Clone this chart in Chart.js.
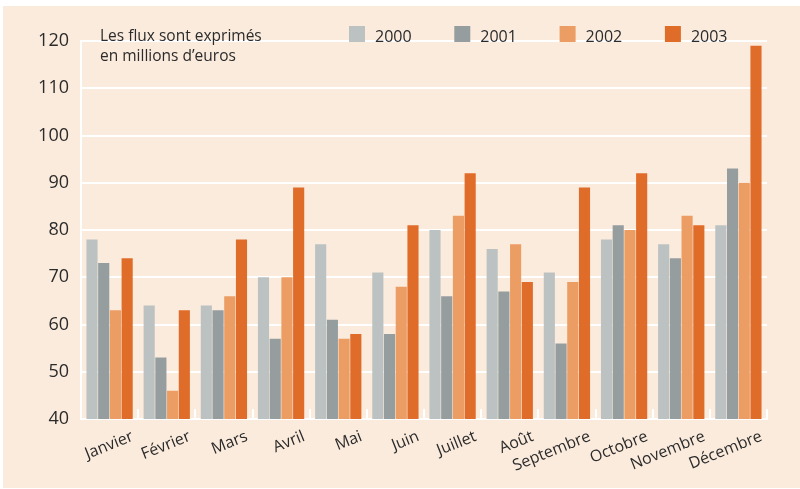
<!DOCTYPE html>
<html>
<head>
<meta charset="utf-8">
<script src="https://cdn.jsdelivr.net/npm/chart.js@4.4.1/dist/chart.umd.min.js"></script>
<style>
  html, body { margin: 0; padding: 0; background: #ffffff; }
  #wrap { width: 800px; height: 489px; }
</style>
</head>
<body>
<div id="wrap"><canvas id="chart" width="800" height="489"></canvas></div>
<script>
const months = ["Janvier", "Février", "Mars", "Avril", "Mai", "Juin", "Juillet", "Août", "Septembre", "Octobre", "Novembre", "Décembre"];
const years = ["2000", "2001", "2002", "2003"];
const flux2000 = [78, 64, 64, 70, 77, 71, 80, 76, 71, 78, 77, 81];
const flux2001 = [73, 53, 63, 57, 61, 58, 66, 67, 56, 81, 74, 93];
const flux2002 = [63, 46, 66, 70, 57, 68, 83, 77, 69, 80, 83, 90];
const flux2003 = [74, 63, 78, 89, 58, 81, 92, 69, 89, 92, 81, 119];
const yearColors = ["#bcc2c1", "#969d9f", "#ec9d63", "#e06c2a"];
const noteLines = ["Les flux sont exprimés", "en millions d\u2019euros"];

const FONT = '"Open Sans", sans-serif';
const TEXT = "#2b2b2b";
const PANEL = "#fbebdd";

// background panel, little axis ticks, note and legend
const decor = {
  id: "decor",
  beforeDraw(chart) {
    const ctx = chart.ctx;
    ctx.save();
    ctx.fillStyle = "#ffffff";
    ctx.fillRect(0, 0, chart.width, chart.height);
    ctx.fillStyle = PANEL;
    ctx.fillRect(3, 6, chart.width - 3, chart.height - 7);
    ctx.restore();
  },
  beforeDatasetsDraw(chart) {
    const ctx = chart.ctx;
    const x = chart.scales.x;
    const bottom = chart.chartArea.bottom;
    ctx.save();
    ctx.strokeStyle = "#ffffff";
    ctx.lineWidth = 2;
    for (let i = 0; i <= months.length; i++) {
      const px = Math.round(x.getPixelForValue(i - 0.5));
      ctx.beginPath();
      ctx.moveTo(px, bottom);
      ctx.lineTo(px, bottom - 10);
      ctx.stroke();
    }
    ctx.restore();
  },
  afterDraw(chart) {
    const ctx = chart.ctx;
    ctx.save();
    ctx.fillStyle = TEXT;
    ctx.textBaseline = "alphabetic";
    ctx.font = "15.5px " + FONT;
    noteLines.forEach((t, i) => ctx.fillText(t, 100, 41 + i * 20));
    ctx.font = "16px " + FONT;
    chart.data.datasets.forEach((ds, i) => {
      const lx = 349 + i * 105.3;
      ctx.fillStyle = ds.backgroundColor;
      ctx.fillRect(lx, 26, 16, 16);
      ctx.fillStyle = TEXT;
      ctx.fillText(ds.label, lx + 26, 42);
    });
    ctx.restore();
  }
};

const seriesValues = [flux2000, flux2001, flux2002, flux2003];

new Chart(document.getElementById("chart"), {
  type: "bar",
  data: {
    labels: months,
    datasets: years.map((y, i) => ({
      label: y,
      data: seriesValues[i],
      backgroundColor: yearColors[i],
      borderWidth: 0,
      categoryPercentage: 0.82,
      barPercentage: 0.95
    }))
  },
  options: {
    responsive: false,
    animation: false,
    devicePixelRatio: 1,
    layout: { padding: { top: 41, right: 33, bottom: 0, left: 0 } },
    plugins: {
      legend: { display: false },
      tooltip: { enabled: false }
    },
    scales: {
      x: {
        grid: { display: false },
        border: { display: true, color: "#ffffff", width: 2 },
        ticks: {
          autoSkip: false,
          minRotation: 22,
          maxRotation: 22,
          labelOffset: 23,
          padding: 0,
          color: TEXT,
          font: { family: FONT, size: 16 }
        },
        afterFit(scale) { scale.height = 70; }
      },
      y: {
        min: 40,
        max: 120,
        grid: { color: "#ffffff", lineWidth: 2, drawTicks: false },
        border: { display: true, color: "#ffffff", width: 2 },
        ticks: {
          stepSize: 10,
          padding: 12,
          color: TEXT,
          font: { family: FONT, size: 18 }
        },
        afterFit(scale) { scale.width = 81; }
      }
    }
  },
  plugins: [decor]
});
</script>
</body>
</html>
